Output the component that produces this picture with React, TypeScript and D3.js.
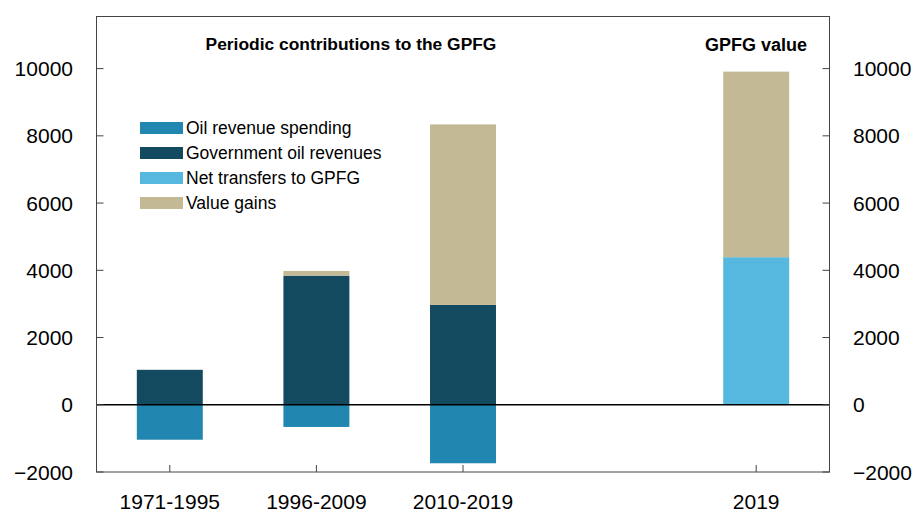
import React from "react";
import * as d3 from "d3";

const slots = ["1971-1995", "1996-2009", "2010-2019", "gap", "2019"];
const barCategories = ["1971-1995", "1996-2009", "2010-2019", "2019"];
const oilSpending = [-1040, -660, -1740, 0];
const govRevenues = [1040, 3840, 2970, 0];
const netTransfers = [0, 0, 0, 4390];
const valueGains = [0, 140, 5370, 5520];
const yTicks = [-2000, 0, 2000, 4000, 6000, 8000, 10000];

const seriesNames = ["Oil revenue spending", "Government oil revenues", "Net transfers to GPFG", "Value gains"];
const seriesColors = ["#2187b0", "#134a5f", "#56b8df", "#c3b995"];

const W = 914;
const H = 514;
const M = { left: 96.5, right: 829.5, top: 16.5, bottom: 472 };
const FONT = "'Liberation Sans', Arial, Helvetica, sans-serif";

export default function App() {
  const x = d3.scalePoint<string>().domain(slots).range([M.left, M.right]).padding(0.5);
  const y = d3.scaleLinear().domain([-2000, 11550]).range([M.bottom, M.top]);
  const bw = x.step() * 0.45;

  const rects: { x: number; y0: number; y1: number; color: string; key: string }[] = [];
  barCategories.forEach((c, i) => {
    const cx = x(c)!;
    if (oilSpending[i] !== 0) rects.push({ x: cx, y0: 0, y1: oilSpending[i], color: seriesColors[0], key: "s" + i });
    let base = 0;
    const pos = [
      { v: govRevenues[i], col: seriesColors[1] },
      { v: netTransfers[i], col: seriesColors[2] },
      { v: valueGains[i], col: seriesColors[3] },
    ];
    pos.forEach((p, j) => {
      if (p.v > 0) {
        rects.push({ x: cx, y0: base, y1: base + p.v, color: p.col, key: "p" + i + "_" + j });
        base += p.v;
      }
    });
  });

  return (
    <svg width={W} height={H} style={{ position: "absolute", left: 0, top: 0, background: "#fff" }} fontFamily={FONT}>
      {rects.map((r) => (
        <rect
          key={r.key}
          x={r.x - bw / 2}
          y={Math.min(y(r.y0), y(r.y1))}
          width={bw}
          height={Math.abs(y(r.y1) - y(r.y0))}
          fill={r.color}
        />
      ))}
      <line x1={M.left} x2={M.right} y1={y(0)} y2={y(0)} stroke="#000" strokeWidth={1.5} />
      <rect x={M.left} y={M.top} width={M.right - M.left} height={M.bottom - M.top} fill="none" stroke="#444" strokeWidth={1} />
      {yTicks.map((t) => (
        <g key={t}>
          <line x1={M.left} x2={M.left + 7} y1={y(t)} y2={y(t)} stroke="#444" />
          <line x1={M.right - 7} x2={M.right} y1={y(t)} y2={y(t)} stroke="#444" />
          <text x={73} y={y(t)} dy="0.36em" textAnchor="end" fontSize={21} fill="#000">
            {t < 0 ? "\u2212" + Math.abs(t) : t}
          </text>
          <text x={853} y={y(t)} dy="0.36em" textAnchor="start" fontSize={21} fill="#000">
            {t < 0 ? "\u2212" + Math.abs(t) : t}
          </text>
        </g>
      ))}
      {barCategories.map((c) => (
        <g key={c}>
          <line x1={x(c)!} x2={x(c)!} y1={M.bottom} y2={M.bottom - 7} stroke="#444" />
          <text x={x(c)!} y={509} textAnchor="middle" fontSize={21} fill="#000">
            {c}
          </text>
        </g>
      ))}
      <text x={351} y={50} textAnchor="middle" fontSize={17.4} fontWeight="bold" fill="#000">
        Periodic contributions to the GPFG
      </text>
      <text x={756} y={51} textAnchor="middle" fontSize={18} fontWeight="bold" fill="#000">
        GPFG value
      </text>
      {seriesNames.map((n, i) => (
        <g key={n} transform={`translate(140, ${122 + i * 25})`}>
          <rect x={0} y={0} width={43} height={12} fill={seriesColors[i]} />
          <text x={46} y={12.3} fontSize={17.5} fill="#000">
            {n}
          </text>
        </g>
      ))}
    </svg>
  );
}
